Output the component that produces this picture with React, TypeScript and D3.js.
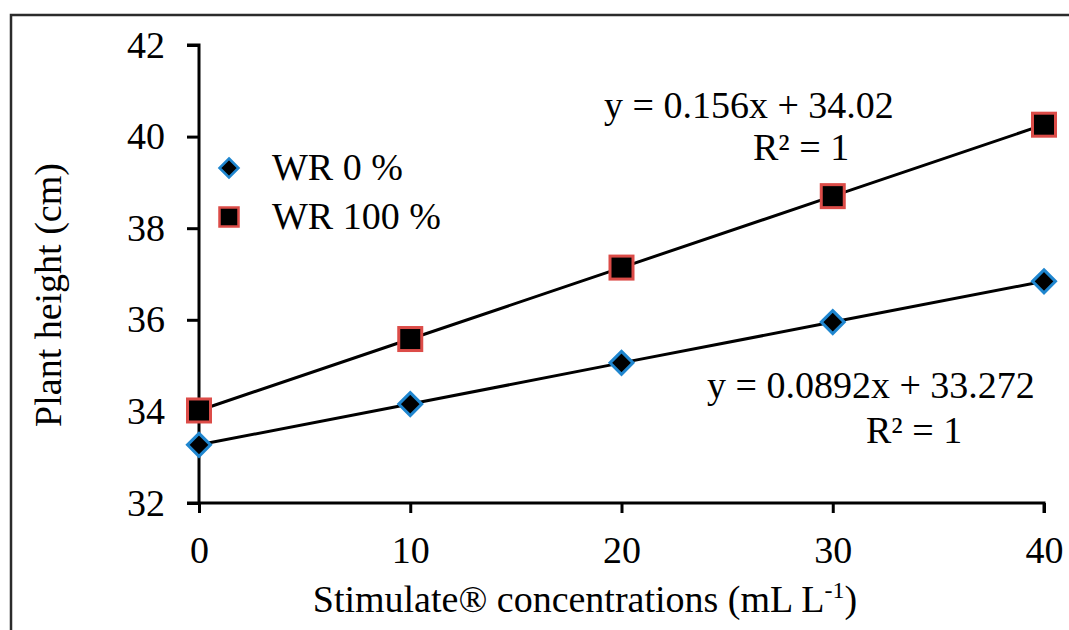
import React, { useEffect, useRef } from 'react';
import * as d3 from 'd3';

// concentrations of Stimulate (mL L-1)
const concentrations = [0, 10, 20, 30, 40];
// plant height (cm) for each water replacement level
const wr0Heights = [33.27, 34.16, 35.06, 35.95, 36.84];
const wr100Heights = [34.02, 35.58, 37.14, 38.7, 40.26];
const yTicks = [32, 34, 36, 38, 40, 42];
const xTicks = [0, 10, 20, 30, 40];
const seriesNames = ['WR 0 %', 'WR 100 %'];

const FONT = 'Liberation Serif, Times New Roman, Times, serif';
const FS = '38px';

const App = () => {
  const ref = useRef<SVGSVGElement>(null);

  useEffect(() => {
    const width = 1069;
    const height = 630;
    const svg = d3.select(ref.current);
    svg.selectAll('*').remove();
    svg.attr('width', width).attr('height', height)
      .style('font-family', FONT);

    svg.append('rect').attr('width', width).attr('height', height).attr('fill', '#fff');

    // outer frame (only top and left visible)
    svg.append('path')
      .attr('d', `M11,${height + 5} L11,15 L${width + 5},15`)
      .attr('fill', 'none')
      .attr('stroke', '#2b2b2b')
      .attr('stroke-width', 2.5);

    const x = d3.scaleLinear().domain([0, 40]).range([199, 1044]);
    const y = d3.scaleLinear().domain([32, 42]).range([503, 45]);

    // y axis
    const yAxis = svg.append('g')
      .attr('transform', 'translate(199,0)')
      .call(d3.axisLeft(y).tickValues(yTicks).tickSize(12).tickPadding(22).tickFormat(d3.format('d')));
    yAxis.attr('font-family', null).attr('font-size', null);
    yAxis.select('.domain').attr('stroke', '#000').attr('stroke-width', 3).attr('d', `M-12,${y(42)}H0V${y(32)}`);
    yAxis.selectAll('.tick line').attr('stroke', '#000').attr('stroke-width', 3);
    yAxis.selectAll('.tick text')
      .style('font-family', FONT).style('font-size', FS).attr('fill', '#000');

    // x axis
    const xAxis = svg.append('g')
      .attr('transform', `translate(0,${y(32)})`)
      .call(d3.axisBottom(x).tickValues(xTicks).tickSize(10).tickPadding(23).tickFormat(d3.format('d')));
    xAxis.attr('font-family', null).attr('font-size', null);
    xAxis.select('.domain').attr('stroke', '#000').attr('stroke-width', 3).attr('d', `M187,0H${x(40)}V10`);
    xAxis.selectAll('.tick line').attr('stroke', '#000').attr('stroke-width', 3);
    xAxis.selectAll('.tick text')
      .style('font-family', FONT).style('font-size', FS).attr('fill', '#000');

    // axis titles
    svg.append('text')
      .attr('transform', 'translate(61,295) rotate(-90)')
      .attr('text-anchor', 'middle')
      .style('font-size', FS)
      .text('Plant height (cm)');

    const xt = svg.append('text')
      .attr('x', 585).attr('y', 612)
      .attr('text-anchor', 'middle')
      .style('font-size', FS);
    xt.append('tspan').text('Stimulate® concentrations (mL L');
    xt.append('tspan').attr('dy', -14).style('font-size', '24px').text('-1');
    xt.append('tspan').attr('dy', 14).text(')');

    const line = d3.line<number>()
      .x((d, i) => x(concentrations[i]))
      .y(d => y(d));

    svg.append('path').datum(wr0Heights).attr('d', line)
      .attr('fill', 'none').attr('stroke', '#000').attr('stroke-width', 3);
    svg.append('path').datum(wr100Heights).attr('d', line)
      .attr('fill', 'none').attr('stroke', '#000').attr('stroke-width', 3);

    const diamond = (s: number) => `M0,${-s}L${s},0L0,${s}L${-s},0Z`;

    svg.selectAll('.dia')
      .data(wr0Heights)
      .join('path')
      .attr('transform', (d, i) => `translate(${x(concentrations[i])},${y(d)})`)
      .attr('d', diamond(11.5))
      .attr('fill', '#000').attr('stroke', '#1f86cf').attr('stroke-width', 3);

    svg.selectAll('.sq')
      .data(wr100Heights)
      .join('rect')
      .attr('x', (d, i) => x(concentrations[i]) - 11.5)
      .attr('y', d => y(d) - 11.5)
      .attr('width', 23).attr('height', 23)
      .attr('fill', '#000').attr('stroke', '#dc4c48').attr('stroke-width', 3);

    // legend
    svg.append('path').attr('transform', 'translate(229,168)').attr('d', diamond(9.5))
      .attr('fill', '#000').attr('stroke', '#1f86cf').attr('stroke-width', 2.5);
    svg.append('rect').attr('x', 219.5).attr('y', 207.5).attr('width', 19).attr('height', 19)
      .attr('fill', '#000').attr('stroke', '#dc4c48').attr('stroke-width', 2.5);
    svg.append('text').attr('x', 272).attr('y', 180)
      .style('font-size', FS).text(seriesNames[0]);
    svg.append('text').attr('x', 272).attr('y', 229)
      .style('font-size', FS).text(seriesNames[1]);

    // trendline equations
    const eq = (tx: number, ty: number, s: string) =>
      svg.append('text').attr('x', tx).attr('y', ty)
        .style('font-size', FS).text(s);
    eq(604, 118, 'y = 0.156x + 34.02');
    eq(753, 160, 'R² = 1');
    eq(707, 398, 'y = 0.0892x + 33.272');
    eq(866, 443, 'R² = 1');
  }, []);

  return (
    <svg ref={ref} style={{ position: 'absolute', left: 0, top: 0, display: 'block' }}></svg>
  );
};

export default App;
